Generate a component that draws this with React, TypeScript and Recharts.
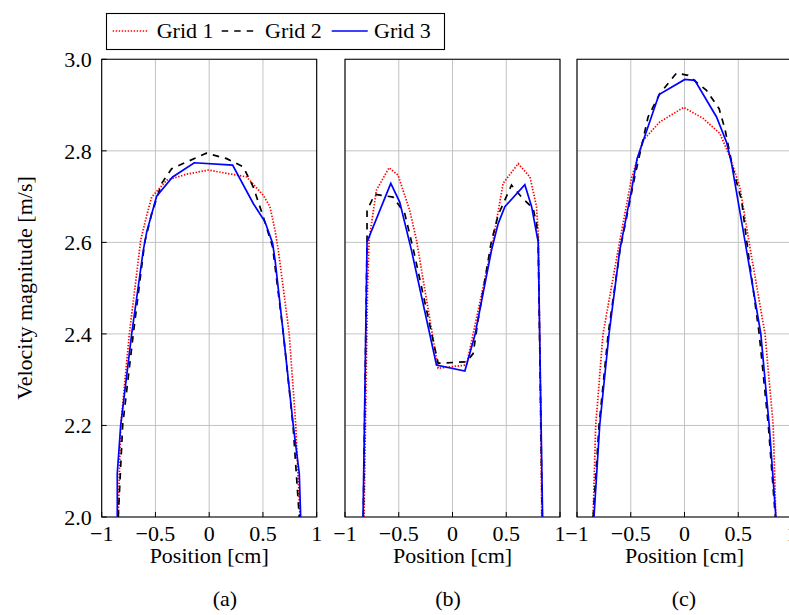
import { LineChart, Line, XAxis, YAxis, CartesianGrid, ReferenceArea } from 'recharts'

// velocity profiles, [position cm, velocity m/s]
const A_GRID1: [number, number][] = [
  [-0.846, 2.0], [-0.823, 2.2], [-0.743, 2.4], [-0.637, 2.605], [-0.58, 2.66], [-0.535, 2.699],
  [-0.395, 2.736], [-0.209, 2.749], [-0.008, 2.758], [0.256, 2.747], [0.349, 2.743], [0.503, 2.703],
  [0.565, 2.678], [0.612, 2.627], [0.643, 2.583], [0.745, 2.4], [0.805, 2.2], [0.845, 2.0],
]
const A_GRID2: [number, number][] = [
  [-0.846, 2.0], [-0.805, 2.2], [-0.706, 2.4], [-0.6, 2.6], [-0.535, 2.663], [-0.442, 2.729],
  [-0.349, 2.761], [-0.026, 2.795], [0.163, 2.783], [0.317, 2.765], [0.41, 2.721], [0.503, 2.656],
  [0.59, 2.59], [0.69, 2.4], [0.78, 2.2], [0.838, 2.0],
]
const A_GRID3: [number, number][] = [
  [-0.855, 2.0], [-0.855, 2.095], [-0.823, 2.2], [-0.721, 2.4], [-0.613, 2.583], [-0.581, 2.623],
  [-0.489, 2.701], [-0.34, 2.743], [-0.139, 2.774], [0.218, 2.769], [0.41, 2.685], [0.519, 2.645],
  [0.59, 2.598], [0.613, 2.561], [0.69, 2.4], [0.782, 2.2], [0.838, 2.095], [0.851, 2.0],
]

const B_GRID1: [number, number][] = [
  [-0.823, 2.0], [-0.79, 2.5], [-0.776, 2.605], [-0.708, 2.714], [-0.59, 2.763], [-0.507, 2.747],
  [-0.398, 2.67], [-0.335, 2.605], [-0.134, 2.325], [0.13, 2.332], [0.378, 2.605], [0.471, 2.729],
  [0.611, 2.772], [0.72, 2.743], [0.782, 2.678], [0.8, 2.61], [0.83, 2.0],
]
const B_GRID2: [number, number][] = [
  [-0.83, 2.0], [-0.795, 2.6], [-0.795, 2.67], [-0.723, 2.705], [-0.553, 2.699], [-0.444, 2.663],
  [-0.36, 2.58], [-0.134, 2.336], [0.13, 2.339], [0.192, 2.357], [0.238, 2.43], [0.36, 2.6],
  [0.425, 2.66], [0.549, 2.725], [0.642, 2.699], [0.75, 2.674], [0.782, 2.641], [0.797, 2.6], [0.835, 2.0],
]
const B_GRID3: [number, number][] = [
  [-0.832, 2.0], [-0.795, 2.601], [-0.574, 2.729], [-0.491, 2.688], [-0.382, 2.583], [-0.149, 2.332],
  [0.115, 2.319], [0.208, 2.397], [0.363, 2.583], [0.425, 2.641], [0.487, 2.678], [0.673, 2.726],
  [0.736, 2.678], [0.797, 2.601], [0.838, 2.0],
]

const C_GRID1: [number, number][] = [
  [-0.85, 2.0], [-0.826, 2.2], [-0.758, 2.4], [-0.618, 2.583], [-0.493, 2.74], [-0.385, 2.823],
  [-0.23, 2.863], [-0.007, 2.895], [0.173, 2.871], [0.329, 2.838], [0.422, 2.787], [0.515, 2.721],
  [0.608, 2.59], [0.749, 2.4], [0.825, 2.2], [0.85, 2.0],
]
const C_GRID2: [number, number][] = [
  [-0.85, 2.0], [-0.795, 2.2], [-0.71, 2.4], [-0.6, 2.583], [-0.463, 2.743], [-0.339, 2.874],
  [-0.229, 2.925], [-0.074, 2.97], [0.033, 2.965], [0.205, 2.932], [0.322, 2.892], [0.375, 2.849],
  [0.453, 2.758], [0.531, 2.692], [0.577, 2.605], [0.695, 2.4], [0.78, 2.2], [0.845, 2.0],
]
const C_GRID3: [number, number][] = [
  [-0.842, 2.0], [-0.789, 2.2], [-0.702, 2.4], [-0.602, 2.583], [-0.493, 2.714], [-0.441, 2.783],
  [-0.237, 2.923], [0.003, 2.956], [0.096, 2.954], [0.298, 2.874], [0.391, 2.819], [0.438, 2.772],
  [0.561, 2.605], [0.71, 2.4], [0.788, 2.2], [0.85, 2.0],
]

const X_TICKS = [-1, -0.5, 0, 0.5, 1]
const Y_TICKS = [2.0, 2.2, 2.4, 2.6, 2.8, 3.0]
const SERIES_NAMES = ['Grid 1', 'Grid 2', 'Grid 3']
const CAPTIONS = ['(a)', '(b)', '(c)']

const FONT = "'Liberation Serif', 'Times New Roman', Tinos, 'Nimbus Roman', 'DejaVu Serif', 'Noto Serif', serif"
const FS = 22
const STYLES = [
  { stroke: '#ff0000', dash: '1.4 1.6' },
  { stroke: '#000000', dash: '6.5 6' },
  { stroke: '#0000ff', dash: undefined },
]

const rows = (pairs: [number, number][]) => pairs.map(([x, v]) => ({ x, v }))
const fmtX = (v: number) => (v < 0 ? '\u2212' : '') + String(Math.abs(v))
const blank = () => ''

function Panel({ series, left, yLabels }: { series: [number, number][][]; left: number; yLabels: boolean }) {
  const yw = yLabels ? 101.7 : 0
  const ml = yLabels ? 0 : 20
  const width = ml + yw + 215 + 20
  const tickText = { fill: '#000', fontSize: FS, fontFamily: FONT }
  return (
    <div style={{ position: 'absolute', left, top: 0, fontFamily: FONT }}>
      <LineChart width={width} height={615} margin={{ top: 59.3, right: 20, left: ml, bottom: 52 }} style={{ fontFamily: FONT }}>
        <CartesianGrid stroke="#bcbcbc" strokeWidth={0.9} />
        <XAxis
          dataKey="x"
          type="number"
          domain={[-1, 1]}
          ticks={X_TICKS}
          allowDataOverflow
          height={46}
          axisLine={false}
          tickSize={-5}
          tickMargin={13}
          tickLine={{ stroke: '#000' }}
          tick={tickText}
          tickFormatter={fmtX}
          label={{ value: 'Position [cm]', position: 'insideBottom', offset: 0, fill: '#000', fontSize: FS, fontFamily: FONT }}
        />
        <XAxis xAxisId="top" orientation="top" dataKey="x" type="number" domain={[-1, 1]} ticks={X_TICKS} height={0} axisLine={false} tickSize={-5} tickLine={{ stroke: '#000' }} tickFormatter={blank} />
        <YAxis
          type="number"
          domain={[2, 3]}
          ticks={Y_TICKS}
          allowDataOverflow
          width={yw}
          axisLine={false}
          tickSize={-5}
          tickMargin={15}
          tickLine={{ stroke: '#000' }}
          tick={tickText}
          tickFormatter={yLabels ? (v: number) => v.toFixed(1) : blank}
        />
        <YAxis yAxisId="right" orientation="right" type="number" domain={[2, 3]} ticks={Y_TICKS} width={0} axisLine={false} tickSize={-5} tickLine={{ stroke: '#000' }} tickFormatter={blank} />
        <ReferenceArea x1={-1} x2={1} y1={2} y2={3} fill="none" stroke="#000" strokeWidth={1.1} />
        {series.map((s, i) => (
          <Line
            key={SERIES_NAMES[i]}
            name={SERIES_NAMES[i]}
            data={rows(s)}
            dataKey="v"
            type="linear"
            stroke={STYLES[i].stroke}
            strokeDasharray={STYLES[i].dash}
            strokeWidth={1.7}
            dot={false}
            isAnimationActive={false}
          />
        ))}
      </LineChart>
    </div>
  )
}

export default function App() {
  const legendX = [112.7, 221.7, 331.7]
  const textX = [156.7, 265, 374]
  const captionX = [225, 448, 684]
  return (
    <div style={{ position: 'absolute', left: 0, top: 0, width: 789, height: 615, overflow: 'hidden', background: '#fff', fontFamily: FONT }}>
      <Panel series={[A_GRID1, A_GRID2, A_GRID3]} left={0} yLabels />
      <Panel series={[B_GRID1, B_GRID2, B_GRID3]} left={325.3} yLabels={false} />
      <Panel series={[C_GRID1, C_GRID2, C_GRID3]} left={557.3} yLabels={false} />
      <svg width={789} height={615} style={{ position: 'absolute', left: 0, top: 0, pointerEvents: 'none', fontFamily: FONT }}>
        <text transform="translate(32,288) rotate(-90)" textAnchor="middle" fontSize={FS} fill="#000">
          Velocity magnitude [m/s]
        </text>
        {/* legend */}
        <rect x={106.5} y={13.5} width={338} height={36} fill="#fff" stroke="#000" strokeWidth={1.1} />
        {SERIES_NAMES.map((name, i) => (
          <g key={name}>
            <line x1={legendX[i]} x2={legendX[i] + 36} y1={31} y2={31} stroke={STYLES[i].stroke} strokeDasharray={STYLES[i].dash} strokeWidth={1.7} />
            <text x={textX[i]} y={38} fontSize={FS} fill="#000">{name}</text>
          </g>
        ))}
        {CAPTIONS.map((c, i) => (
          <text key={c} x={captionX[i]} y={606} textAnchor="middle" fontSize={FS} fill="#000">{c}</text>
        ))}
      </svg>
    </div>
  )
}
